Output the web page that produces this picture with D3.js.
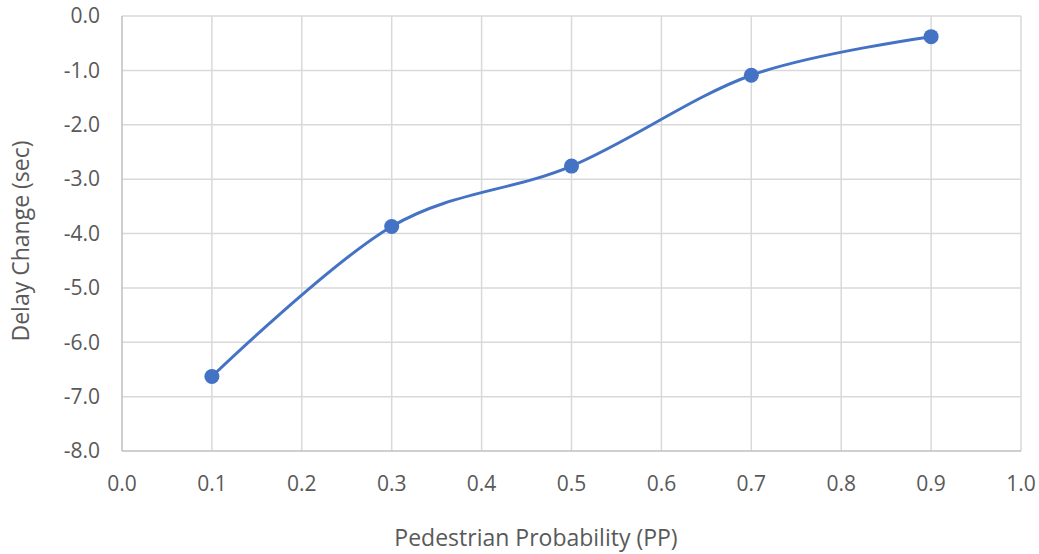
<!DOCTYPE html>
<html>
<head>
<meta charset="utf-8">
<script src="https://cdn.jsdelivr.net/npm/d3@7"></script>
<style>
body { margin: 0; background: #fff; }
text { font-family: "Open Sans", sans-serif; fill: #595959; }
</style>
</head>
<body>
<svg width="1039" height="554"></svg>
<script>
var pp = [0.1, 0.3, 0.5, 0.7, 0.9];
var delay = [-6.63, -3.87, -2.76, -1.09, -0.38];
var xTicks = [0, 0.1, 0.2, 0.3, 0.4, 0.5, 0.6, 0.7, 0.8, 0.9, 1.0];
var yTicks = [0, -1, -2, -3, -4, -5, -6, -7, -8];

var svg = d3.select("svg");
var mLeft = 122, mRight = 1021, mTop = 16, mBottom = 451;

var x = d3.scaleLinear().domain([0, 1]).range([mLeft, mRight]);
var y = d3.scaleLinear().domain([-8, 0]).range([mBottom, mTop]);

// grid
svg.append("g")
	.selectAll("line")
	.data(xTicks.slice(1))
	.enter().append("line")
	.attr("x1", d => x(d)).attr("x2", d => x(d))
	.attr("y1", mTop).attr("y2", mBottom)
	.style("stroke", "#d9d9d9").style("stroke-width", 1.5);
svg.append("g")
	.selectAll("line")
	.data(yTicks.slice(0, -1))
	.enter().append("line")
	.attr("x1", mLeft).attr("x2", mRight)
	.attr("y1", d => y(d)).attr("y2", d => y(d))
	.style("stroke", "#d9d9d9").style("stroke-width", 1.5);

// axis lines
svg.append("line").attr("x1", mLeft).attr("x2", mLeft).attr("y1", mTop).attr("y2", mBottom)
	.style("stroke", "#bfbfbf").style("stroke-width", 1.5);
svg.append("line").attr("x1", mLeft).attr("x2", mRight).attr("y1", mBottom).attr("y2", mBottom)
	.style("stroke", "#bfbfbf").style("stroke-width", 1.5);

// tick labels
svg.append("g").selectAll("text")
	.data(yTicks).enter().append("text")
	.attr("x", mLeft - 22).attr("y", d => y(d))
	.attr("dy", "0.35em")
	.attr("text-anchor", "end")
	.style("font-size", "21px")
	.text(d => d.toFixed(1));
svg.append("g").selectAll("text")
	.data(xTicks).enter().append("text")
	.attr("x", d => x(d)).attr("y", mBottom + 40)
	.attr("text-anchor", "middle")
	.style("font-size", "21px")
	.text(d => d.toFixed(1));

// titles
svg.append("text")
	.attr("x", 536).attr("y", 546)
	.attr("text-anchor", "middle")
	.style("font-size", "23px")
	.text("Pedestrian Probability (PP)");
svg.append("text")
	.attr("transform", "translate(29,241) rotate(-90)")
	.attr("text-anchor", "middle")
	.style("font-size", "23px")
	.text("Delay Change (sec)");

// series
var pts = pp.map((d, i) => [d, delay[i]]);
var line = d3.line()
	.x(d => x(d[0])).y(d => y(d[1]))
	.curve(d3.curveCardinal.tension(0));
svg.append("path")
	.datum(pts)
	.attr("d", line)
	.style("fill", "none")
	.style("stroke", "#4472c4")
	.style("stroke-width", 3);
svg.append("g").selectAll("circle")
	.data(pts).enter().append("circle")
	.attr("cx", d => x(d[0])).attr("cy", d => y(d[1]))
	.attr("r", 7.5)
	.style("fill", "#4472c4");
</script>
</body>
</html>
